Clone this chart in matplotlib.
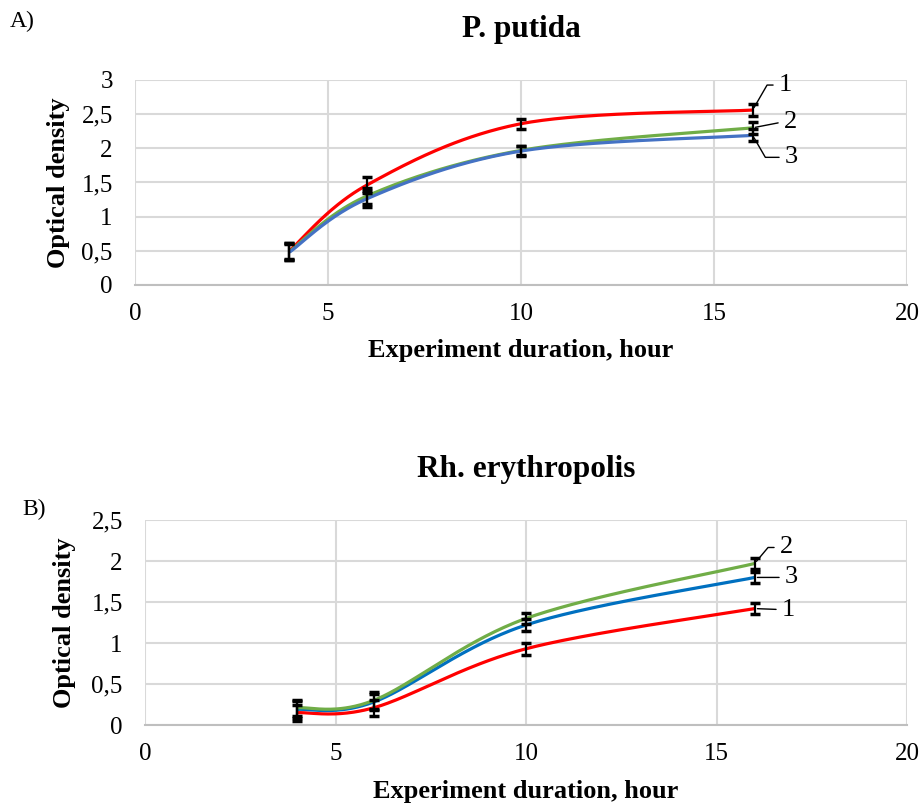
import numpy as np
import matplotlib
matplotlib.use("Agg")
import matplotlib.pyplot as plt
from matplotlib.ticker import FuncFormatter

# ===================== data =====================
hours = [4, 6, 10, 16]

# A) P. putida
putida_1 = [0.50, 1.46, 2.36, 2.56]
putida_2 = [0.49, 1.30, 1.97, 2.30]
putida_3 = [0.48, 1.26, 1.96, 2.19]
putida_err = [0.12, 0.12, 0.07, 0.09]

# B) Rh. erythropolis
rh_1 = [0.15, 0.21, 0.93, 1.42]
rh_2 = [0.21, 0.30, 1.30, 1.97]
rh_3 = [0.19, 0.28, 1.22, 1.80]
rh_err = [0.10, 0.10, 0.07, 0.07]

RED = "#ff0000"
GREEN = "#70ad47"
BLUE_A = "#4472c4"
BLUE_B = "#0070c0"

plt.rcParams["font.family"] = ["Liberation Serif", "DejaVu Serif"]


def comma(v, pos):
    s = f"{v:g}"
    return s.replace(".", ",")


def smooth(ax, xs, ys, n=60):
    """Excel-like smoothed line (Bezier through points), computed in display space"""
    pts = ax.transData.transform(np.column_stack([xs, ys]))
    P = np.vstack([pts[0], pts, pts[-1]])
    out = []
    t = np.linspace(0, 1, n)[:, None]
    for i in range(1, len(P) - 2):
        p0, p3 = P[i], P[i + 1]
        c1 = p0 + (P[i + 1] - P[i - 1]) / 6
        c2 = p3 - (P[i + 2] - P[i]) / 6
        seg = (1 - t) ** 3 * p0 + 3 * (1 - t) ** 2 * t * c1 + 3 * (1 - t) * t ** 2 * c2 + t ** 3 * p3
        out.append(seg)
    curve = ax.transData.inverted().transform(np.vstack(out))
    return curve[:, 0], curve[:, 1]


def setup(ax, ymax, ystep, title, ylab_x, xlab_y):
    ax.set_xlim(0, 20)
    ax.set_ylim(0, ymax)
    ax.set_xticks(np.arange(0, 21, 5))
    ax.set_yticks(np.arange(0, ymax + 0.001, ystep))
    ax.yaxis.set_major_formatter(FuncFormatter(comma))
    ax.grid(True, color="#d9d9d9", linewidth=1.5)
    ax.set_axisbelow(True)
    for side in ["top", "right", "left"]:
        ax.spines[side].set_visible(False)
    ax.spines["bottom"].set_color("#bfbfbf")
    ax.spines["bottom"].set_linewidth(1.5)
    ax.tick_params(length=0, labelsize=18)
    ax.tick_params(axis="x", pad=13)
    ax.tick_params(axis="y", pad=16)
    ax.set_xlabel("Experiment duration, hour", fontsize=19, fontweight="bold")
    ax.set_ylabel("Optical density", fontsize=19, fontweight="bold")
    ax.xaxis.set_label_coords(0.5, xlab_y)
    ax.yaxis.set_label_coords(ylab_x, 0.5)
    ax.set_title(title, fontsize=22.5, fontweight="bold", pad=31)


def draw(ax, series, err):
    for ys, color in series:
        cx, cy = smooth(ax, hours, ys)
        ax.plot(cx, cy, color=color, linewidth=2.3, solid_capstyle="butt", zorder=3)
    for ys, color in series:
        ax.errorbar(hours, ys, yerr=err, fmt="none", ecolor="black", elinewidth=1.6,
                    capsize=3.5, capthick=2.5, zorder=4)


def label(ax, x, y, text, dx, dy, angle_b=None):
    if angle_b is None:
        style = "arc3,rad=0"
    else:
        style = f"angle,angleA=0,angleB={angle_b},rad=0"
    ax.annotate(text, xy=(x, y), xytext=(dx, dy), textcoords="offset pixels",
                fontsize=19, va="center", ha="left",
                arrowprops=dict(arrowstyle="-", color="black", linewidth=1,
                                shrinkA=2, shrinkB=2, relpos=(0, 0.5),
                                connectionstyle=style))


fig = plt.figure(figsize=(9.23, 8.08), dpi=100)

ax1 = fig.add_axes([0.1463, 0.6473, 0.8364, 0.2537])
setup(ax1, 3, 0.5, "P. putida", -0.084, -0.265)
draw(ax1, [(putida_1, RED), (putida_2, GREEN), (putida_3, BLUE_A)], putida_err)
label(ax1, hours[-1], putida_1[-1], "1", 26, 25, 60)
label(ax1, hours[-1], putida_2[-1], "2", 31, 6)
label(ax1, hours[-1], putida_3[-1], "3", 32, -22, 120)
fig.text(10 / 923, 1 - 11 / 808, "A)", fontsize=17, va="top")

ax2 = fig.add_axes([0.1571, 0.1027, 0.8256, 0.2537])
setup(ax2, 2.5, 0.5, "Rh. erythropolis", -0.09, -0.27)
draw(ax2, [(rh_1, RED), (rh_3, BLUE_B), (rh_2, GREEN)], rh_err)
label(ax2, hours[-1], rh_2[-1], "2", 25, 16, 50)
label(ax2, hours[-1], rh_3[-1], "3", 30, 0)
label(ax2, hours[-1], rh_1[-1], "1", 27, -1)
fig.text(22 / 923, 1 - 499 / 808, "B)", fontsize=17, va="top")

fig.savefig("out.png", dpi=100)
